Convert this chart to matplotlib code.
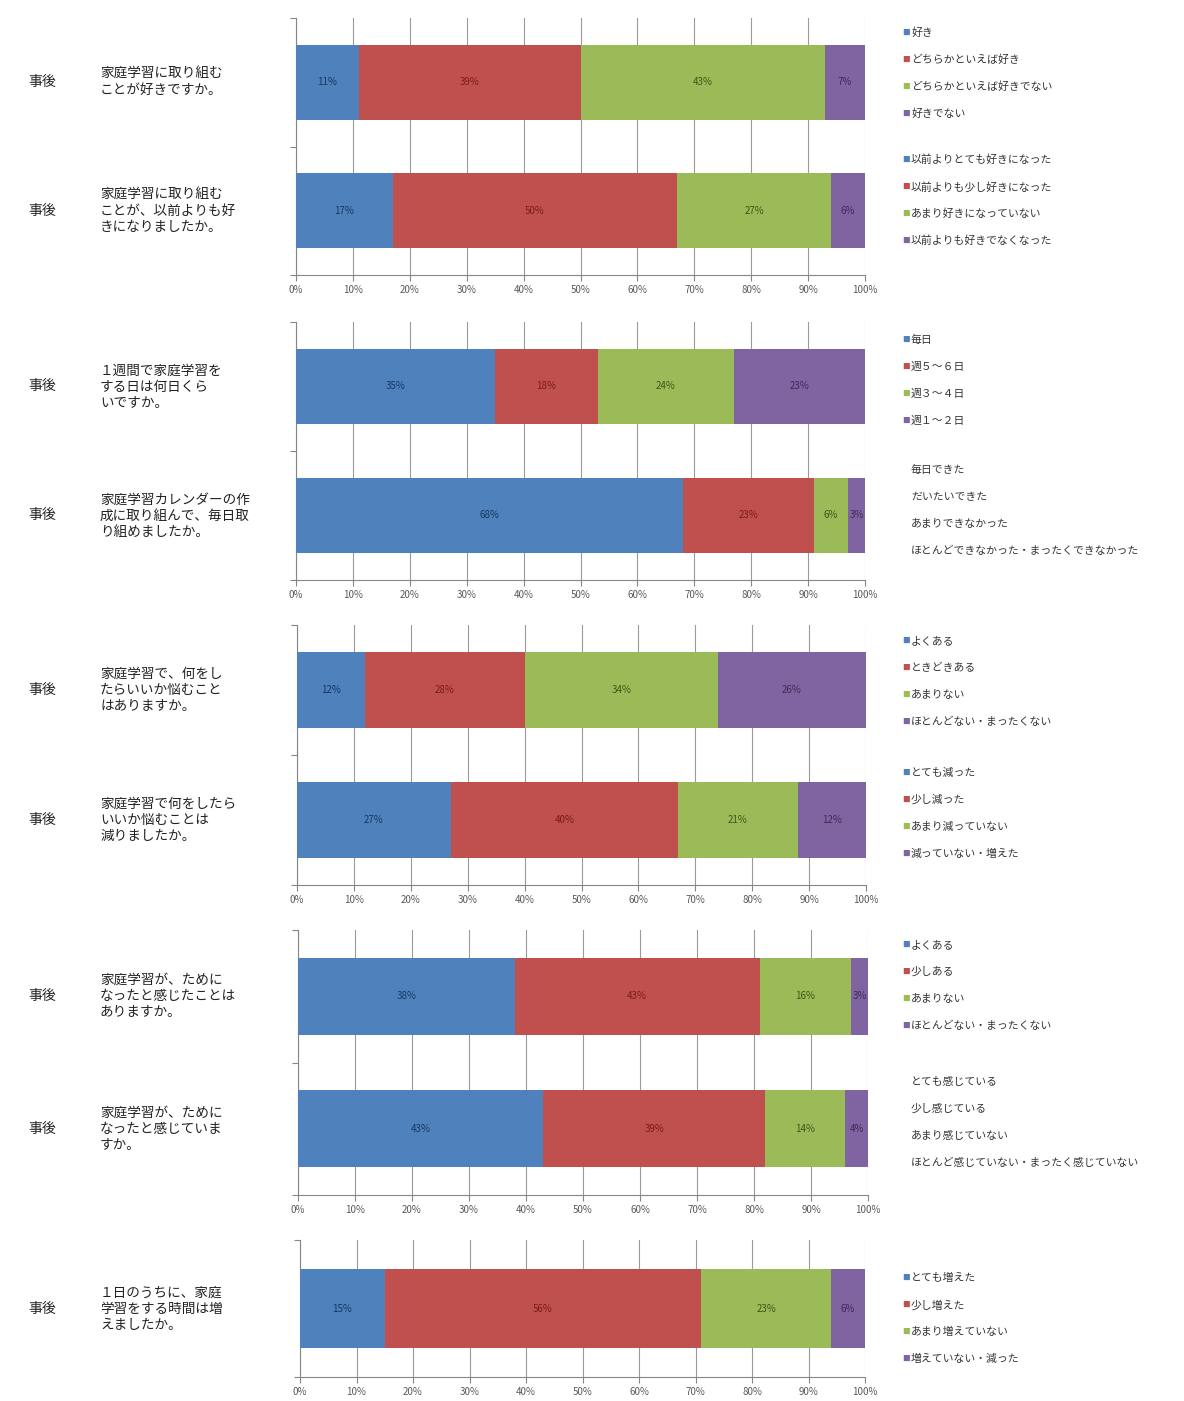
import matplotlib
matplotlib.use("Agg")
import matplotlib.pyplot as plt
from matplotlib.transforms import blended_transform_factory

plt.rcParams['font.family'] = ['Noto Sans CJK JP', 'DejaVu Sans']

W, H = 1184, 1401

colors = ["#4F81BD", "#C0504D", "#9BBB59", "#8064A2"]
label_colors = ["#17375E", "#7A1A17", "#3E5516", "#3B2A55"]

# questions (one per bar), grouped by panel
questions = [
    ["家庭学習に取り組む\nことが好きですか。",
     "家庭学習に取り組む\nことが、以前よりも好\nきになりましたか。"],
    ["１週間で家庭学習を\nする日は何日くら\nいですか。",
     "家庭学習カレンダーの作\n成に取り組んで、毎日取\nり組めましたか。"],
    ["家庭学習で、何をし\nたらいいか悩むこと\nはありますか。",
     "家庭学習で何をしたら\nいいか悩むことは\n減りましたか。"],
    ["家庭学習が、ために\nなったと感じたことは\nありますか。",
     "家庭学習が、ために\nなったと感じていま\nすか。"],
    ["１日のうちに、家庭\n学習をする時間は増\nえましたか。"],
]
row_label = "事後"

# percentages per bar: [1st, 2nd, 3rd, 4th answer]
values = [
    [[11, 39, 43, 7], [17, 50, 27, 6]],
    [[35, 18, 24, 23], [68, 23, 6, 3]],
    [[12, 28, 34, 26], [27, 40, 21, 12]],
    [[38, 43, 16, 3], [43, 39, 14, 4]],
    [[15, 56, 23, 6]],
]

legend_labels = [
    [["好き", "どちらかといえば好き", "どちらかといえば好きでない", "好きでない"],
     ["以前よりとても好きになった", "以前よりも少し好きになった",
      "あまり好きになっていない", "以前よりも好きでなくなった"]],
    [["毎日", "週５～６日", "週３～４日", "週１～２日"],
     ["毎日できた", "だいたいできた", "あまりできなかった",
      "ほとんどできなかった・まったくできなかった"]],
    [["よくある", "ときどきある", "あまりない", "ほとんどない・まったくない"],
     ["とても減った", "少し減った", "あまり減っていない", "減っていない・増えた"]],
    [["よくある", "少しある", "あまりない", "ほとんどない・まったくない"],
     ["とても感じている", "少し感じている", "あまり感じていない",
      "ほとんど感じていない・まったく感じていない"]],
    [["とても増えた", "少し増えた", "あまり増えていない", "増えていない・減った"]],
]
legend_markers = [[True, True], [True, False], [True, True], [True, False], [True]]

# layout (pixels): axes left, right, top, bottom; legend first-entry y
axes_px = [
    (296, 865, 18, 275),
    (296, 865, 322, 580),
    (297, 866, 625, 885),
    (298, 868, 930, 1195),
    (300, 865, 1240, 1377),
]
legend_top_px = [[33, 160], [340, 470], [641, 773], [945, 1082], [1278]]

fig = plt.figure(figsize=(W / 100, H / 100), dpi=100)
ticks = list(range(0, 101, 10))

for p in range(len(values)):
    x0, x1, y0, y1 = axes_px[p]
    ax = fig.add_axes([x0 / W, 1 - y1 / H, (x1 - x0) / W, (y1 - y0) / H])
    nb = len(values[p])
    for b in range(nb):
        left = 0
        for k, v in enumerate(values[p][b]):
            ax.barh(b, v, left=left, height=0.58, color=colors[k], zorder=3)
            ax.text(left + v / 2, b, f"{v}%", ha="center", va="center",
                    fontsize=7, color=label_colors[k], zorder=4)
            left += v
        tr = blended_transform_factory(fig.transFigure, ax.transData)
        ax.text(42 / W, b, row_label, transform=tr, ha="center", va="center",
                fontsize=10, color="#222222")
        ax.text(100 / W, b, questions[p][b], transform=tr, ha="left", va="center",
                fontsize=9.8, color="#222222", linespacing=1.2)
    ax.set_xlim(0, 100)
    ax.set_ylim(nb - 0.5, -0.5)
    ax.set_xticks(ticks)
    ax.set_xticklabels([f"{t}%" for t in ticks], fontsize=7, color="#595959")
    ax.set_yticks([i - 0.5 for i in range(nb + 1)])
    ax.set_yticklabels([])
    ax.tick_params(axis="both", length=4, color="#868686")
    ax.grid(axis="x", color="#9a9a9a", linewidth=0.8, zorder=0)
    for s in ["top", "right"]:
        ax.spines[s].set_visible(False)
    for s in ["left", "bottom"]:
        ax.spines[s].set_color("#868686")

    # legends
    for g, labels in enumerate(legend_labels[p]):
        ytop = legend_top_px[p][g]
        for k, lab in enumerate(labels):
            yy = 1 - (ytop + 27 * k) / H
            if legend_markers[p][g]:
                fig.text(902 / W, yy, "■", fontsize=5.5, color=colors[k],
                         ha="left", va="center")
            fig.text(911 / W, yy, lab, fontsize=7.8, color="#333333",
                     ha="left", va="center")

fig.savefig("out.png", dpi=100)
